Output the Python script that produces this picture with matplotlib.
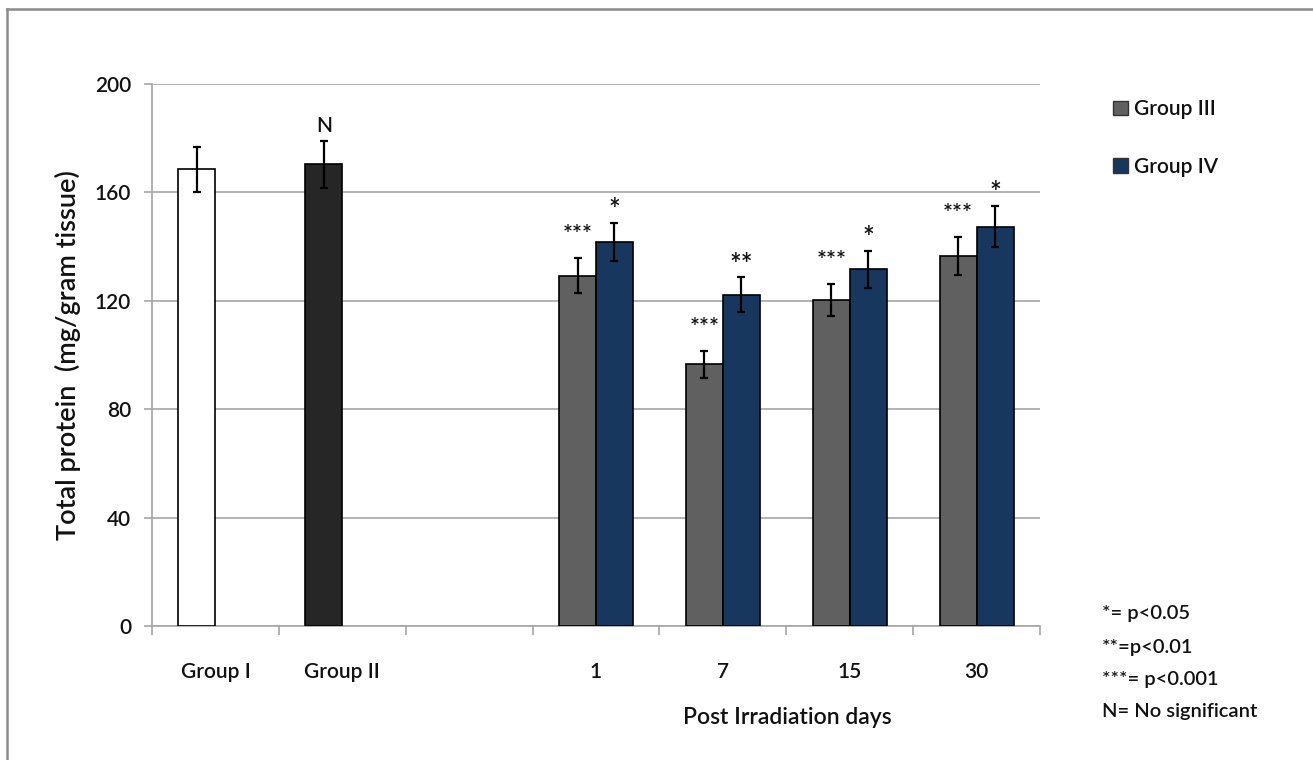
import matplotlib
matplotlib.use("Agg")
import matplotlib.pyplot as plt
from matplotlib.lines import Line2D
from matplotlib.patches import Patch
import numpy as np

# ---- data ----
categories = ["Group I", "Group II", "", "1", "7", "15", "30"]
control_values = [168.5, 170.3]
control_errors = [8.3, 8.5]
control_marks = ["", "N"]
group3_values = [129.3, 96.6, 120.3, 136.4]
group3_errors = [6.5, 5.0, 6.0, 7.0]
group3_marks = ["***", "***", "***", "***"]
group4_values = [141.7, 122.3, 131.7, 147.4]
group4_errors = [7.0, 6.3, 6.8, 7.7]
group4_marks = ["*", "**", "*", "*"]
series_names = ["Group III", "Group IV"]
y_ticks = [0, 40, 80, 120, 160, 200]
notes = ["*= p<0.05", "**=p<0.01", "***= p<0.001", "N= No significant"]

FONT = "Lato"
plt.rcParams["font.family"] = [FONT, "DejaVu Sans"]
plt.rcParams["font.weight"] = "semibold"
TXT = "#111111"

W, H = 1313, 760
fig = plt.figure(figsize=(W / 100, H / 100), dpi=100)
fig.patch.set_facecolor("white")

def fx(px):
    return px / W

def fy(py):
    return 1 - py / H

ax = fig.add_axes([fx(152), fy(626), fx(1040) - fx(152), fy(84) - fy(626)])

bw = 37 / 127
ctrl_x = np.arange(len(control_values)) - bw / 2
day_idx = np.arange(3, 3 + len(group3_values))
g3_x = day_idx - bw / 2
g4_x = day_idx + bw / 2

err_kw = dict(ecolor="black", elinewidth=1.6, capsize=3.0, capthick=1.6)
edge = dict(edgecolor="black", linewidth=1.2)

ax.bar(ctrl_x, control_values, bw, color=["white", "#262626"], yerr=control_errors,
       error_kw=err_kw, zorder=3, **edge)
ax.bar(g3_x, group3_values, bw, color="#606060", yerr=group3_errors,
       error_kw=err_kw, zorder=3, label=series_names[0], **edge)
ax.bar(g4_x, group4_values, bw, color="#17375e", yerr=group4_errors,
       error_kw=err_kw, zorder=3, label=series_names[1], **edge)

def mark(xs, vals, errs, labels):
    for x, v, e, lab in zip(xs, vals, errs, labels):
        if not lab:
            continue
        if lab == "***":
            off, fs = 8, 17
        elif lab == "N":
            off, fs = 4, 15
        else:
            off, fs = -1, 20
        ax.annotate(lab, (x, v + e), xytext=(0, off), textcoords="offset points",
                    ha="center", va="bottom", fontsize=fs, color=TXT, zorder=5)

mark(ctrl_x, control_values, control_errors, control_marks)
mark(g3_x, group3_values, group3_errors, group3_marks)
mark(g4_x, group4_values, group4_errors, group4_marks)

ax.set_xlim(-0.5, len(categories) - 0.5)
ax.set_ylim(0, 200)
ax.set_yticks(y_ticks)
ax.set_yticklabels([str(t) for t in y_ticks], fontsize=15, color=TXT)
ax.yaxis.grid(True, color="#a6a6a6", linewidth=1.2, zorder=0)
ax.set_axisbelow(True)

ax.set_xticks(np.arange(len(categories)))
ax.set_xticklabels(categories, fontsize=15, color=TXT)
ax.set_xticks(np.arange(len(categories) + 1) - 0.5, minor=True)
ax.tick_params(axis="x", which="major", length=0, pad=26)
ax.tick_params(axis="x", which="minor", length=6.5, width=1.2, color="#a6a6a6", direction="out")
ax.tick_params(axis="y", length=6, width=1.2, color="#a6a6a6", pad=9)

for s in ["top", "right"]:
    ax.spines[s].set_visible(False)
for s in ["left", "bottom"]:
    ax.spines[s].set_color("#a6a6a6")
    ax.spines[s].set_linewidth(1.2)

fig.text(fx(68), fy(355), "Total protein  (mg/gram tissue)", rotation=90,
         ha="center", va="center", fontsize=19.5, color=TXT)
fig.text(fx(787), fy(718), "Post Irradiation days", ha="center", va="center",
         fontsize=16.5, color=TXT)

for txt, yy in zip(notes, [613, 647, 680, 712]):
    fig.text(fx(1102), fy(yy), txt, ha="left", va="center", fontsize=14.5, color=TXT)

handles = [Patch(facecolor="#606060", edgecolor="#333333", linewidth=1.0),
           Patch(facecolor="#17375e", edgecolor="#333333", linewidth=1.0)]
leg = fig.legend(handles, series_names, loc="upper left", bbox_to_anchor=(fx(1109), fy(95)),
                 frameon=False, fontsize=15, handlelength=0.7, handleheight=0.7,
                 handletextpad=0.3, labelspacing=1.8, borderaxespad=0, borderpad=0.2)
for t in leg.get_texts():
    t.set_color(TXT)

# outer frame (top and left visible)
fig.add_artist(Line2D([fx(7), 1.0], [fy(9), fy(9)], color="#8c8c8c", linewidth=1.8,
                      transform=fig.transFigure))
fig.add_artist(Line2D([fx(7), fx(7)], [fy(9), 0.0], color="#8c8c8c", linewidth=1.8,
                      transform=fig.transFigure))

fig.savefig("out.png", dpi=100, facecolor="white")
